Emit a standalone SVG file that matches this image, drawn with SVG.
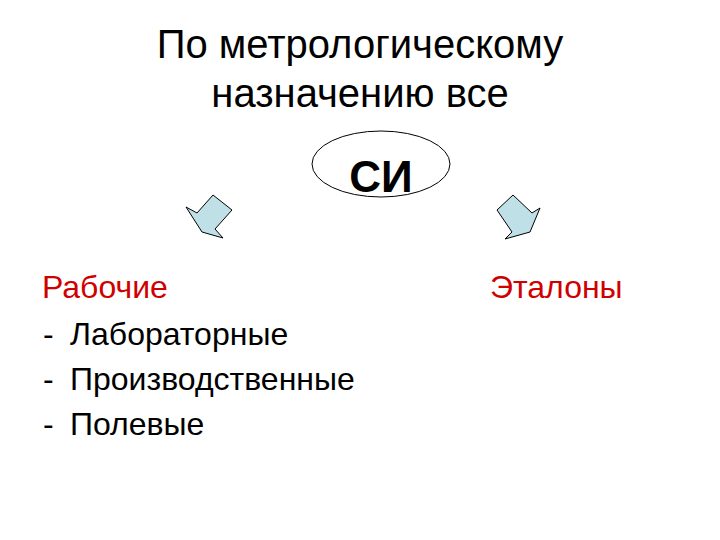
<svg xmlns="http://www.w3.org/2000/svg" width="720" height="540" viewBox="0 0 720 540">
<style>
text{font-family:"Liberation Sans",Arial,sans-serif}
.t{font-size:40px;fill:#000;text-anchor:middle}
.r{font-size:32px;fill:#d00000}
.b{font-size:32px;fill:#000}
.arr{fill:#bfe0e6;stroke:#000;stroke-width:1;stroke-linejoin:miter}
</style>
<rect width="720" height="540" fill="#fff"/>
<g id="title">
<text class="t" x="360" y="58">По метрологическому</text>
<text class="t" x="360" y="107">назначению все</text>
</g>
<g id="si">
<ellipse cx="381" cy="164" rx="69" ry="33" fill="#fff" stroke="#000" stroke-width="1"/>
<text x="381" y="192" font-size="44" font-weight="bold" text-anchor="middle">СИ</text>
</g>
<g id="connectors">
<polygon class="arr" points="213,195 232,210 215,229 223,238 202,232 186,207 197,213"/>
<polygon class="arr" points="513,195 497,210 512,232 505,239 530,232 540,208 532,213"/>
</g>
<g id="working">
<text class="r" x="42" y="298">Рабочие</text>
<text class="b" x="43" y="345">-</text><text class="b" x="70" y="345">Лабораторные</text>
<text class="b" x="43" y="390">-</text><text class="b" x="70" y="390">Производственные</text>
<text class="b" x="43" y="435">-</text><text class="b" x="70" y="435">Полевые</text>
</g>
<g id="etalons">
<text class="r" x="490" y="298">Эталоны</text>
</g>
</svg>
